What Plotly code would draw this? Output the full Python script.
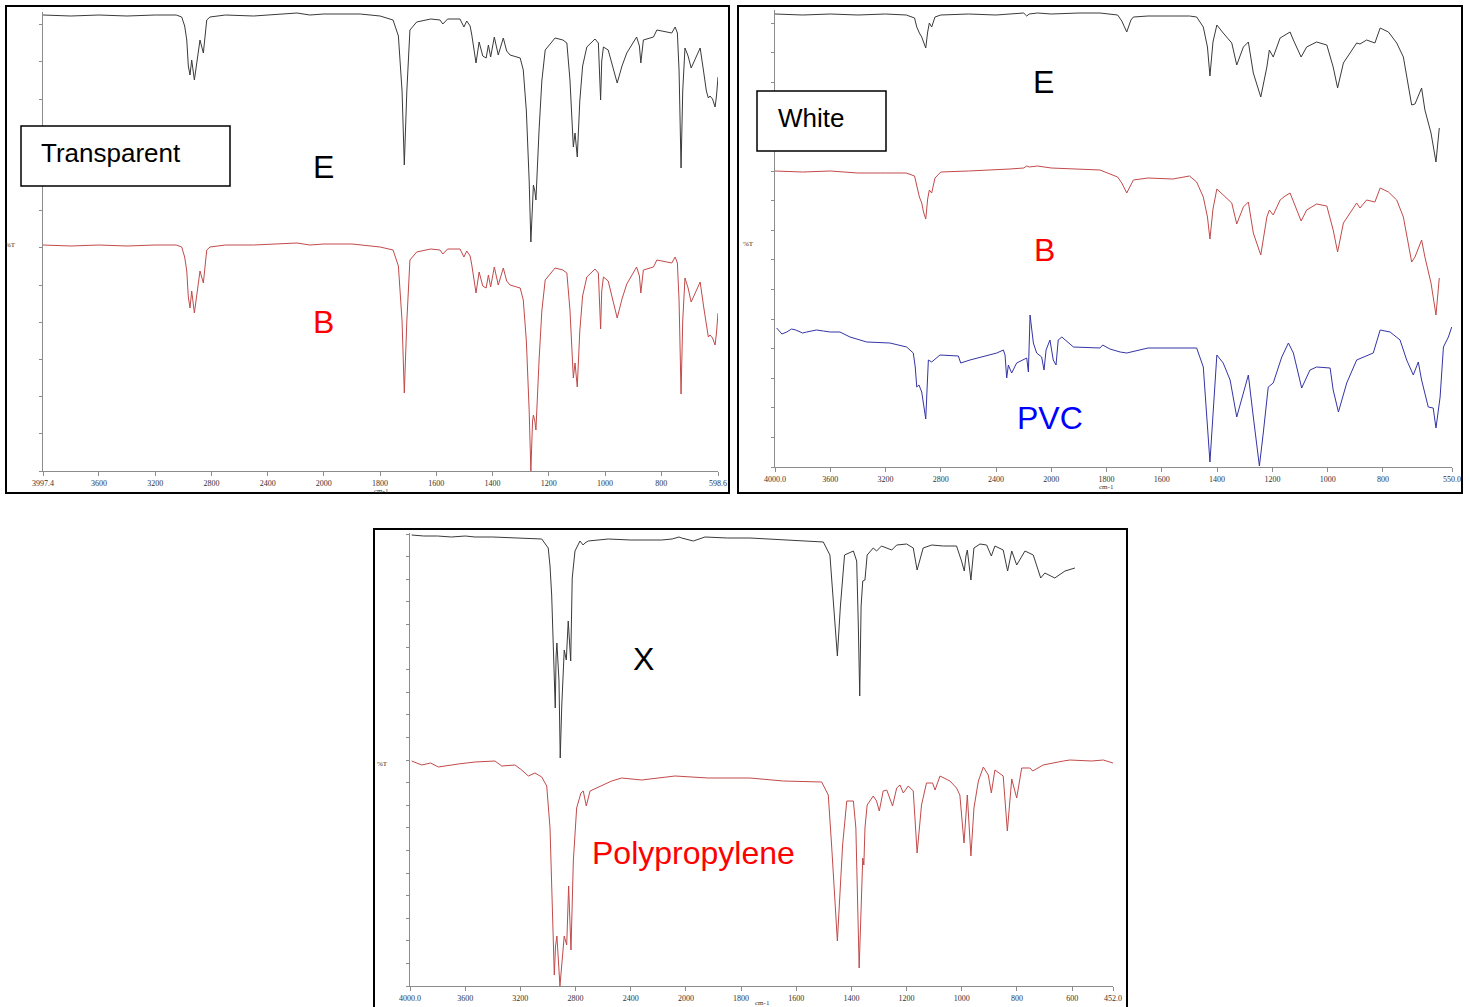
import plotly.graph_objects as go

# ---------------- data (wavenumber cm-1, transmittance in arbitrary %T units) ----------------
P1_WN = [3997.4, 3800, 3600, 3400, 3200, 3050, 3011, 2990, 2975, 2964, 2952, 2940, 2921, 2904, 2881, 2857,
         2833, 2810, 2700, 2500, 2300, 2191, 2100, 2000, 1900, 1871, 1800, 1754, 1735, 1722, 1714, 1705,
         1694, 1670, 1620, 1587, 1577, 1560, 1516, 1502, 1492, 1480, 1474, 1459, 1448, 1435, 1423, 1415,
         1407, 1394, 1380, 1362, 1350, 1338, 1302, 1291, 1280, 1270, 1264, 1258, 1255, 1250, 1246, 1235,
         1225, 1213, 1178, 1150, 1136, 1125, 1113, 1107, 1099, 1090, 1080, 1065, 1036, 1024, 1019, 1016,
         1012, 1006, 989, 970, 957, 940, 923, 888, 878, 873, 868, 864, 828, 816, 763, 751, 743, 737, 730,
         724, 716, 705, 694, 680, 662, 650, 640, 633, 627, 618, 609, 604, 598.6]
P1_E = [456, 455, 456, 455, 456, 456, 454, 445, 431, 405, 396, 411, 391, 410, 431, 418,
        451, 454, 456, 455, 457, 458, 456, 457, 457, 457, 455, 451, 435, 380, 306, 380,
        441, 449, 452, 451, 447, 452, 452, 444, 450, 445, 436, 408, 429, 415, 413, 426,
        414, 434, 416, 433, 420, 416, 413, 401, 360, 290, 229, 280, 286, 280, 271, 340,
        390, 421, 433, 431, 428, 391, 324, 338, 314, 370, 405, 424, 432, 428, 400, 371,
        410, 424, 421, 400, 388, 405, 418, 434, 425, 408, 425, 431, 434, 441, 438, 444, 438, 400, 303,
        380, 423, 415, 403, 412, 423, 400, 380, 373, 375, 372, 364, 375, 394]
P1_B = [226, 225, 226, 225, 226, 226, 224, 214, 200, 174, 163, 180, 158, 178, 200, 188,
        221, 224, 226, 226, 227, 228, 226, 227, 227, 226, 224, 221, 205, 150, 78, 150,
        211, 219, 222, 221, 217, 222, 222, 214, 220, 215, 206, 178, 199, 185, 183, 196,
        184, 204, 186, 203, 190, 186, 183, 171, 130, 60, 0, 50, 56, 50, 41, 110,
        160, 191, 203, 201, 198, 161, 93, 108, 84, 140, 175, 194, 202, 198, 170, 142,
        180, 194, 190, 168, 153, 172, 187, 204, 195, 178, 195, 201, 204, 211, 208, 214, 208, 170, 77,
        150, 193, 183, 169, 178, 189, 165, 145, 134, 136, 133, 126, 138, 158]

P2_WN = [4000, 3800, 3600, 3400, 3200, 3050, 2990, 2974, 2955, 2938, 2925, 2909, 2895, 2883, 2866, 2842,
         2800, 2600, 2400, 2300, 2200, 2178, 2160, 2100, 2000, 1900, 1824, 1760, 1745, 1727, 1712, 1703,
         1650, 1560, 1500, 1474, 1450, 1435, 1426, 1415, 1401, 1378, 1347, 1329, 1305, 1287, 1269, 1242,
         1220, 1211, 1197, 1172, 1154, 1136, 1124, 1096, 1076, 1040, 1003, 980, 964, 943, 895, 883, 859,
         829, 810, 780, 750, 726, 696, 684, 660, 648, 626, 608, 596]
P2_E = [453, 452, 453, 452, 453, 452, 449, 440, 434, 430, 425, 419, 435, 444, 440, 450,
        452, 453, 452, 453, 454, 451, 453, 454, 453, 454, 454, 452, 446, 435, 447, 450,
        451, 451, 451, 450, 440, 420, 391, 425, 442, 434, 424, 402, 420, 425, 394, 370,
        400, 417, 410, 429, 432, 435, 427, 410, 420, 425, 422, 400, 379, 404, 424, 423, 427,
        424, 439, 435, 424, 410, 362, 363, 379, 357, 334, 305, 339]
P2_B = [296, 295, 296, 294, 294, 294, 291, 280, 270, 264, 255, 248, 268, 277, 274, 289,
        295, 296, 297, 298, 299, 301, 300, 301, 299, 298, 297, 290, 284, 274, 282, 287,
        289, 288, 291, 285, 270, 250, 228, 258, 278, 272, 264, 243, 260, 265, 234, 212,
        250, 257, 252, 267, 271, 274, 265, 246, 257, 263, 261, 237, 215, 244, 264, 259, 267,
        265, 279, 275, 267, 250, 205, 210, 227, 210, 184, 152, 189]

PVC_WN = [3988, 3950, 3915, 3880, 3850, 3800, 3771, 3700, 3650, 3600, 3530, 3457, 3336, 3168, 3047, 2999,
          2985, 2974, 2958, 2938, 2909, 2890, 2866, 2806, 2673, 2656, 2589, 2395, 2347, 2335, 2323, 2311,
          2287, 2251, 2178, 2166, 2154, 2130, 2106, 2070, 2053, 2038, 2010, 1993, 1983, 1975, 1962, 1920,
          1824, 1814, 1788, 1751, 1727, 1650, 1474, 1450, 1426, 1401, 1378, 1353, 1329, 1305, 1287, 1269,
          1247, 1233, 1215, 1197, 1166, 1142, 1124, 1094, 1064, 1040, 991, 980, 961, 931, 895, 835, 810,
          774, 738, 714, 690, 672, 660, 636, 618, 608, 593, 581, 563, 551]
PVC_T = [139, 133, 135, 138, 137, 134, 135, 137, 136, 135, 135, 130, 125, 124, 120, 114,
         100, 80, 82, 75, 48, 107, 105, 112, 111, 104, 107, 114, 117, 112, 89, 102,
         94, 104, 109, 95, 152, 124, 114, 110, 97, 117, 127, 107, 102, 127, 130, 120,
         119, 122, 118, 115, 114, 119, 119, 100, 5, 112, 104, 87, 50, 74, 92, 50,
         1, 34, 80, 84, 110, 124, 114, 79, 97, 100, 99, 77, 55, 84, 107, 114, 137,
         135, 127, 107, 92, 105, 87, 60, 59, 39, 70, 120, 130, 140]

X_WN = [3988, 3900, 3800, 3700, 3600, 3529, 3400, 3200, 3045, 2998, 2985, 2973, 2956, 2947, 2941, 2935,
        2920, 2911, 2900, 2893, 2882, 2867, 2853, 2835, 2824, 2804, 2768, 2745, 2732, 2708, 2563, 2400,
        2176, 2100, 2050, 2031, 1973, 1931, 1850, 1768, 1502, 1478, 1465, 1451, 1440, 1425, 1393, 1381,
        1375, 1370, 1365, 1359, 1351, 1343, 1321, 1309, 1291, 1254, 1236, 1200, 1176, 1162, 1140, 1109,
        1067, 1019, 1001, 991, 985, 980, 967, 956, 934, 910, 893, 880, 850, 834, 819, 801, 771, 741,
        714, 699, 663, 626, 590]
X_T = [451, 450, 450, 449, 450, 449, 449, 448, 447, 438, 420, 391, 308, 278, 330, 343,
       305, 228, 280, 298, 336, 326, 365, 325, 408, 435, 445, 441, 443, 445, 447, 446,
       446, 447, 449, 448, 445, 449, 448, 448, 444, 431, 380, 330, 380, 431, 435, 425,
       360, 290, 380, 405, 406, 431, 438, 435, 440, 436, 441, 442, 438, 416, 438, 441,
       440, 440, 425, 415, 430, 436, 406, 438, 442, 441, 430, 440, 436, 415, 435, 421, 435, 431,
       408, 413, 408, 415, 418]

PP_WN = [3988, 3915, 3850, 3795, 3650, 3529, 3384, 3335, 3239, 3190, 3142, 3094, 3045, 3009, 2985, 2969,
         2954, 2945, 2935, 2913, 2893, 2882, 2864, 2850, 2833, 2816, 2792, 2761, 2744, 2722, 2695, 2611,
         2538, 2466, 2321, 2079, 1919, 1768, 1647, 1508, 1484, 1472, 1451, 1432, 1417, 1393, 1384, 1372,
         1359, 1355, 1351, 1343, 1321, 1309, 1299, 1285, 1272, 1251, 1236, 1224, 1212, 1194, 1176, 1162,
         1146, 1128, 1106, 1097, 1079, 1043, 1019, 1007, 992, 980, 967, 956, 940, 922, 904, 893, 880,
         850, 835, 819, 801, 783, 753, 743, 705, 632, 608, 530, 487, 452]
PP_T = [225, 221, 223, 219, 222, 224, 225, 220, 221, 216, 210, 213, 209, 200, 158, 75,
        11, 40, 50, 0, 35, 50, 41, 100, 36, 125, 178, 193, 195, 180, 195, 200,
        205, 208, 206, 210, 208, 208, 205, 204, 191, 141, 45, 141, 185, 185, 158, 18,
        128, 121, 158, 181, 190, 185, 175, 195, 196, 180, 198, 201, 193, 200, 195, 133,
        181, 203, 203, 196, 210, 205, 198, 191, 143, 191, 130, 178, 205, 219, 211, 193, 216,
        210, 155, 207, 188, 218, 218, 215, 221, 225, 226, 225, 226, 223]

P1_TICKS = [3997.4, 3600, 3200, 2800, 2400, 2000, 1800, 1600, 1400, 1200, 1000, 800, 598.6]
P1_TICKTEXT = ["3997.4", "3600", "3200", "2800", "2400", "2000", "1800", "1600", "1400", "1200", "1000", "800", "598.6"]
P2_TICKS = [4000, 3600, 3200, 2800, 2400, 2000, 1800, 1600, 1400, 1200, 1000, 800, 550]
P2_TICKTEXT = ["4000.0", "3600", "3200", "2800", "2400", "2000", "1800", "1600", "1400", "1200", "1000", "800", "550.0"]
P3_TICKS = [4000, 3600, 3200, 2800, 2400, 2000, 1800, 1600, 1400, 1200, 1000, 800, 600, 452]
P3_TICKTEXT = ["4000.0", "3600", "3200", "2800", "2400", "2000", "1800", "1600", "1400", "1200", "1000", "800", "600", "452.0"]


# instrument-style abscissa: scale doubles below 2000 cm-1
def xpos(w):
    return (4000 - w) / 2.0 if w >= 2000 else 3000.0 - w


def xs(ws):
    return [xpos(w) for w in ws]


W, H = 1470, 1007


def fx(px):
    return px / W


def fy(py):
    return 1 - py / H


C_BLACK = "#3a3a3a"
C_RED = "#c24a4a"
C_BLUE = "#3434a6"

fig = go.Figure()
fig.add_trace(go.Scatter(x=xs(P1_WN), y=P1_E, mode="lines", line=dict(color=C_BLACK, width=1), xaxis="x", yaxis="y"))
fig.add_trace(go.Scatter(x=xs(P1_WN), y=P1_B, mode="lines", line=dict(color=C_RED, width=1), xaxis="x", yaxis="y"))
fig.add_trace(go.Scatter(x=xs(P2_WN), y=P2_E, mode="lines", line=dict(color=C_BLACK, width=1), xaxis="x2", yaxis="y2"))
fig.add_trace(go.Scatter(x=xs(P2_WN), y=P2_B, mode="lines", line=dict(color=C_RED, width=1), xaxis="x2", yaxis="y2"))
fig.add_trace(go.Scatter(x=xs(PVC_WN), y=PVC_T, mode="lines", line=dict(color=C_BLUE, width=1), xaxis="x2", yaxis="y2"))
fig.add_trace(go.Scatter(x=xs(X_WN), y=X_T, mode="lines", line=dict(color=C_BLACK, width=1), xaxis="x3", yaxis="y3"))
fig.add_trace(go.Scatter(x=xs(PP_WN), y=PP_T, mode="lines", line=dict(color=C_RED, width=1), xaxis="x3", yaxis="y3"))

AX_COL = "#8c8c8c"
tickfont = dict(family="Liberation Serif", size=8, color="#333333")


def xax(dom, rng, ticks, text, anchor):
    return dict(domain=[fx(dom[0]), fx(dom[1])], range=[xpos(rng[0]), xpos(rng[1])], anchor=anchor,
                tickmode="array", tickvals=xs(ticks), ticktext=text, ticks="outside", ticklen=4,
                tickcolor=AX_COL, showline=True, linecolor=AX_COL, linewidth=1, showgrid=False,
                zeroline=False, tickfont=tickfont, fixedrange=True, automargin=False)


def yax(dom, top, dt, anchor):
    return dict(domain=[fy(dom[1]), fy(dom[0])], range=[0, top], anchor=anchor, tick0=0, dtick=dt,
                ticks="outside", ticklen=3, tickcolor=AX_COL, showline=True, linecolor=AX_COL,
                linewidth=1, showgrid=False, zeroline=False, showticklabels=False, fixedrange=True,
                automargin=False)


layout = dict(
    width=W, height=H, autosize=False,
    margin=dict(l=0, r=0, t=0, b=0, pad=0, autoexpand=False), showlegend=False,
    paper_bgcolor="white", plot_bgcolor="white",
    xaxis=xax((43, 718), (3997.4, 598.6), P1_TICKS, P1_TICKTEXT, "y"),
    yaxis=yax((12, 471), 459, 37.2, "x"),
    xaxis2=xax((775, 1452), (4000, 550), P2_TICKS, P2_TICKTEXT, "y2"),
    yaxis2=yax((10, 467), 457, 29.6, "x2"),
    xaxis3=xax((410, 1113), (4000, 452), P3_TICKS, P3_TICKTEXT, "y3"),
    yaxis3=yax((533, 986), 453, 22.6, "x3"),
)
fig.update_layout(**layout)

shapes = []
for (x0, y0, x1, y1) in [(6, 6, 729, 493), (738, 6, 1462, 493), (374, 529, 1127, 1030)]:
    shapes.append(dict(type="rect", xref="paper", yref="paper", x0=fx(x0), x1=fx(x1), y0=fy(y1), y1=fy(y0),
                       line=dict(color="black", width=2), fillcolor="rgba(0,0,0,0)", layer="above"))
for (x0, y0, x1, y1) in [(21, 126, 230, 186), (757, 91, 886, 151)]:
    shapes.append(dict(type="rect", xref="paper", yref="paper", x0=fx(x0), x1=fx(x1), y0=fy(y1), y1=fy(y0),
                       line=dict(color="black", width=1.5), fillcolor="white", layer="above"))
fig.update_layout(shapes=shapes)

SANS = "Liberation Sans"
ann = []


def label(text, px, py, size, color, xanchor="center"):
    ann.append(dict(text=text, x=fx(px), y=fy(py), xref="paper", yref="paper", showarrow=False,
                    xanchor=xanchor, yanchor="middle", font=dict(family=SANS, size=size, color=color)))


label("Transparent", 39, 153, 26, "black", "left")
label("White", 776, 118, 26, "black", "left")
label("E", 323, 167, 32, "black")
label("B", 323, 322, 32, "#ff0000")
label("E", 1043, 82, 32, "black")
label("B", 1044, 250, 32, "#ff0000")
label("PVC", 1050, 418, 32, "#0000ff")
label("X", 643, 659, 32, "black")
label("Polypropylene", 693, 853, 32, "#ff0000")

small = dict(family="Liberation Serif", size=7, color="#333333")
for (t, px, py) in [("%T", 10, 245), ("%T", 748, 244), ("%T", 382, 764),
                    ("cm-1", 381, 491), ("cm-1", 1106, 487), ("cm-1", 762, 1003)]:
    ann.append(dict(text=t, x=fx(px), y=fy(py), xref="paper", yref="paper", showarrow=False,
                    xanchor="center", yanchor="middle", font=small))
fig.update_layout(annotations=ann)

fig.write_html("out.html", default_width="1470px", default_height="1007px",
               config={"displayModeBar": False},
               post_script="document.body.style.margin='0';document.body.style.overflow='hidden';"
                           "document.documentElement.style.overflow='hidden';")
